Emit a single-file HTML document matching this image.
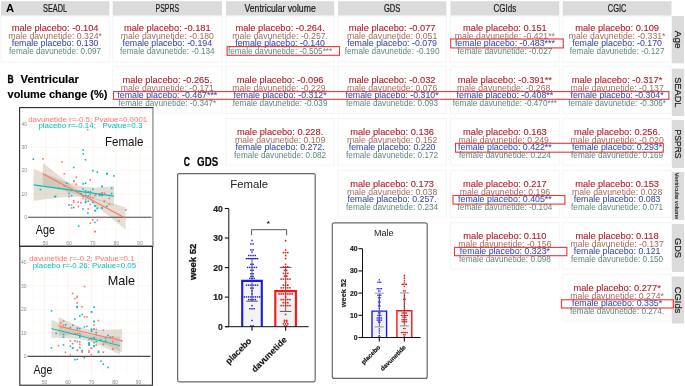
<!DOCTYPE html><html><head><meta charset="utf-8"><title>fig</title><style>
html,body{margin:0;padding:0;background:#fff;}body{width:685px;height:386px;overflow:hidden;}
svg{display:block;font-family:"Liberation Sans",sans-serif;will-change:transform;}
</style></head><body>
<svg width="685" height="386" viewBox="0 0 685 386">
<rect x="0" y="0" width="685" height="386" fill="#fff"/>
<rect x="1" y="1.2" width="108.3" height="14.6" fill="#dbdbdb"/>
<text x="55.1" y="11.9" font-size="10.0" fill="#1a1a1a" stroke="#1a1a1a" stroke-width="0.22" text-anchor="middle" textLength="24.1" lengthAdjust="spacingAndGlyphs">SEADL</text>
<rect x="112.7" y="1.2" width="109.3" height="14.6" fill="#dbdbdb"/>
<text x="167.3" y="11.9" font-size="10.0" fill="#1a1a1a" stroke="#1a1a1a" stroke-width="0.22" text-anchor="middle" textLength="23.6" lengthAdjust="spacingAndGlyphs">PSPRS</text>
<rect x="226" y="1.2" width="108.2" height="14.6" fill="#dbdbdb"/>
<text x="280.1" y="11.9" font-size="10.0" fill="#1a1a1a" stroke="#1a1a1a" stroke-width="0.22" text-anchor="middle" textLength="71.2" lengthAdjust="spacingAndGlyphs">Ventricular volume</text>
<rect x="338" y="1.2" width="108.3" height="14.6" fill="#dbdbdb"/>
<text x="392.1" y="11.9" font-size="10.0" fill="#1a1a1a" stroke="#1a1a1a" stroke-width="0.22" text-anchor="middle" textLength="16.3" lengthAdjust="spacingAndGlyphs">GDS</text>
<rect x="450.5" y="1.2" width="108.8" height="14.6" fill="#dbdbdb"/>
<text x="504.9" y="11.9" font-size="10.0" fill="#1a1a1a" stroke="#1a1a1a" stroke-width="0.22" text-anchor="middle" textLength="22.6" lengthAdjust="spacingAndGlyphs">CGIds</text>
<rect x="562.8" y="1.2" width="108.7" height="14.6" fill="#dbdbdb"/>
<text x="617.1" y="11.9" font-size="10.0" fill="#1a1a1a" stroke="#1a1a1a" stroke-width="0.22" text-anchor="middle" textLength="18.7" lengthAdjust="spacingAndGlyphs">CGIC</text>
<text x="6" y="12.2" font-size="11.2" font-weight="bold" fill="#000">A</text>
<rect x="672" y="16" width="12" height="47.3" fill="#dbdbdb"/>
<text transform="translate(674.6,39.6) rotate(90)" x="0" y="0" font-size="9.3" fill="#1a1a1a" stroke="#1a1a1a" stroke-width="0.2" text-anchor="middle" textLength="17.7" lengthAdjust="spacingAndGlyphs">Age</text>
<rect x="672" y="68.6" width="12" height="47.4" fill="#dbdbdb"/>
<text transform="translate(674.6,92.3) rotate(90)" x="0" y="0" font-size="9.3" fill="#1a1a1a" stroke="#1a1a1a" stroke-width="0.2" text-anchor="middle" textLength="30.3" lengthAdjust="spacingAndGlyphs">SEADL</text>
<rect x="672" y="120" width="12" height="48.0" fill="#dbdbdb"/>
<text transform="translate(674.6,144.0) rotate(90)" x="0" y="0" font-size="9.3" fill="#1a1a1a" stroke="#1a1a1a" stroke-width="0.2" text-anchor="middle" textLength="29.2" lengthAdjust="spacingAndGlyphs">PSPRS</text>
<rect x="672" y="172" width="12" height="48.0" fill="#dbdbdb"/>
<text transform="translate(674.6,196.0) rotate(90)" x="0" y="0" font-size="5.8" fill="#1a1a1a" stroke="#1a1a1a" stroke-width="0.1" text-anchor="middle" textLength="46.4" lengthAdjust="spacingAndGlyphs">Ventricular volume</text>
<rect x="672" y="224" width="12" height="48.0" fill="#dbdbdb"/>
<text transform="translate(674.6,248.0) rotate(90)" x="0" y="0" font-size="9.3" fill="#1a1a1a" stroke="#1a1a1a" stroke-width="0.2" text-anchor="middle" textLength="19.9" lengthAdjust="spacingAndGlyphs">GDS</text>
<rect x="672" y="276.5" width="12" height="47.0" fill="#dbdbdb"/>
<text transform="translate(674.6,300.0) rotate(90)" x="0" y="0" font-size="9.3" fill="#1a1a1a" stroke="#1a1a1a" stroke-width="0.2" text-anchor="middle" textLength="26.6" lengthAdjust="spacingAndGlyphs">CGIds</text>
<rect x="1" y="16" width="108.3" height="46.0" fill="none" stroke="#f4f4f4" stroke-width="1"/>
<text x="55.1" y="31.3" font-size="9.2" fill="#b3202e" stroke="#b3202e" stroke-width="0.12" text-anchor="middle" textLength="86.8" lengthAdjust="spacingAndGlyphs">male placebo: -0.104</text>
<text x="55.1" y="38.7" font-size="8.9" fill="#a36d5d" text-anchor="middle" textLength="93.8" lengthAdjust="spacingAndGlyphs">male davunetide: 0.324*</text>
<text x="55.1" y="46.1" font-size="8.9" fill="#3a4db0" stroke="#3a4db0" stroke-width="0.06" text-anchor="middle" textLength="86.8" lengthAdjust="spacingAndGlyphs">female placebo: 0.130</text>
<text x="55.1" y="53.5" font-size="8.8" fill="#578a78" text-anchor="middle" textLength="92.0" lengthAdjust="spacingAndGlyphs">female davunetide: 0.097</text>
<rect x="112.7" y="16" width="109.3" height="46.0" fill="none" stroke="#f4f4f4" stroke-width="1"/>
<text x="167.3" y="31.3" font-size="9.2" fill="#b3202e" stroke="#b3202e" stroke-width="0.12" text-anchor="middle" textLength="86.8" lengthAdjust="spacingAndGlyphs">male placebo: -0.181</text>
<text x="167.3" y="38.7" font-size="8.9" fill="#a36d5d" text-anchor="middle" textLength="93.3" lengthAdjust="spacingAndGlyphs">male davunetide: -0.180</text>
<text x="167.3" y="46.1" font-size="8.9" fill="#3a4db0" stroke="#3a4db0" stroke-width="0.06" text-anchor="middle" textLength="89.7" lengthAdjust="spacingAndGlyphs">female placebo: -0.194</text>
<text x="167.3" y="53.5" font-size="8.8" fill="#578a78" text-anchor="middle" textLength="94.7" lengthAdjust="spacingAndGlyphs">female davunetide: -0.134</text>
<rect x="226" y="16" width="108.2" height="46.0" fill="none" stroke="#f4f4f4" stroke-width="1"/>
<text x="280.1" y="31.3" font-size="9.2" fill="#b3202e" stroke="#b3202e" stroke-width="0.12" text-anchor="middle" textLength="89.4" lengthAdjust="spacingAndGlyphs">male placebo: -0.264.</text>
<text x="280.1" y="38.7" font-size="8.9" fill="#a36d5d" text-anchor="middle" textLength="95.8" lengthAdjust="spacingAndGlyphs">male davunetide: -0.257.</text>
<text x="280.1" y="46.1" font-size="8.9" fill="#3a4db0" stroke="#3a4db0" stroke-width="0.06" text-anchor="middle" textLength="89.7" lengthAdjust="spacingAndGlyphs">female placebo: -0.140</text>
<text x="280.1" y="53.5" font-size="8.8" fill="#578a78" text-anchor="middle" textLength="104.3" lengthAdjust="spacingAndGlyphs">female davunetide: -0.505***</text>
<rect x="338" y="16" width="108.3" height="46.0" fill="none" stroke="#f4f4f4" stroke-width="1"/>
<text x="392.1" y="31.3" font-size="9.2" fill="#b3202e" stroke="#b3202e" stroke-width="0.12" text-anchor="middle" textLength="86.8" lengthAdjust="spacingAndGlyphs">male placebo: -0.077</text>
<text x="392.1" y="38.7" font-size="8.9" fill="#a36d5d" text-anchor="middle" textLength="90.4" lengthAdjust="spacingAndGlyphs">male davunetide: 0.051</text>
<text x="392.1" y="46.1" font-size="8.9" fill="#3a4db0" stroke="#3a4db0" stroke-width="0.06" text-anchor="middle" textLength="89.7" lengthAdjust="spacingAndGlyphs">female placebo: -0.079</text>
<text x="392.1" y="53.5" font-size="8.8" fill="#578a78" text-anchor="middle" textLength="94.7" lengthAdjust="spacingAndGlyphs">female davunetide: -0.190</text>
<rect x="450.5" y="16" width="108.8" height="46.0" fill="none" stroke="#f4f4f4" stroke-width="1"/>
<text x="504.9" y="31.3" font-size="9.2" fill="#b3202e" stroke="#b3202e" stroke-width="0.12" text-anchor="middle" textLength="83.8" lengthAdjust="spacingAndGlyphs">male placebo: 0.151</text>
<text x="504.9" y="38.7" font-size="8.9" fill="#a36d5d" text-anchor="middle" textLength="100.1" lengthAdjust="spacingAndGlyphs">male davunetide: -0.421**</text>
<text x="504.9" y="46.1" font-size="8.9" fill="#3a4db0" stroke="#3a4db0" stroke-width="0.06" text-anchor="middle" textLength="100.0" lengthAdjust="spacingAndGlyphs">female placebo: -0.483***</text>
<text x="504.9" y="53.5" font-size="8.8" fill="#578a78" text-anchor="middle" textLength="94.7" lengthAdjust="spacingAndGlyphs">female davunetide: -0.027</text>
<rect x="562.8" y="16" width="108.7" height="46.0" fill="none" stroke="#f4f4f4" stroke-width="1"/>
<text x="617.1" y="31.3" font-size="9.2" fill="#b3202e" stroke="#b3202e" stroke-width="0.12" text-anchor="middle" textLength="83.8" lengthAdjust="spacingAndGlyphs">male placebo: 0.109</text>
<text x="617.1" y="38.7" font-size="8.9" fill="#a36d5d" text-anchor="middle" textLength="96.7" lengthAdjust="spacingAndGlyphs">male davunetide: -0.331*</text>
<text x="617.1" y="46.1" font-size="8.9" fill="#3a4db0" stroke="#3a4db0" stroke-width="0.06" text-anchor="middle" textLength="89.7" lengthAdjust="spacingAndGlyphs">female placebo: -0.170</text>
<text x="617.1" y="53.5" font-size="8.8" fill="#578a78" text-anchor="middle" textLength="94.7" lengthAdjust="spacingAndGlyphs">female davunetide: -0.127</text>
<rect x="112.7" y="66.6" width="109.3" height="46.5" fill="none" stroke="#f4f4f4" stroke-width="1"/>
<text x="167.3" y="83.3" font-size="9.2" fill="#b3202e" stroke="#b3202e" stroke-width="0.12" text-anchor="middle" textLength="89.4" lengthAdjust="spacingAndGlyphs">male placebo: -0.265.</text>
<text x="167.3" y="90.7" font-size="8.9" fill="#a36d5d" text-anchor="middle" textLength="93.3" lengthAdjust="spacingAndGlyphs">male davunetide: -0.171</text>
<text x="167.3" y="98.1" font-size="8.9" fill="#3a4db0" stroke="#3a4db0" stroke-width="0.06" text-anchor="middle" textLength="100.0" lengthAdjust="spacingAndGlyphs">female placebo: -0.467***</text>
<text x="167.3" y="105.5" font-size="8.8" fill="#578a78" text-anchor="middle" textLength="97.9" lengthAdjust="spacingAndGlyphs">female davunetide: -0.347*</text>
<rect x="226" y="66.6" width="108.2" height="46.5" fill="none" stroke="#f4f4f4" stroke-width="1"/>
<text x="280.1" y="83.3" font-size="9.2" fill="#b3202e" stroke="#b3202e" stroke-width="0.12" text-anchor="middle" textLength="86.8" lengthAdjust="spacingAndGlyphs">male placebo: -0.096</text>
<text x="280.1" y="90.7" font-size="8.9" fill="#a36d5d" text-anchor="middle" textLength="95.8" lengthAdjust="spacingAndGlyphs">male davunetide: -0.229.</text>
<text x="280.1" y="98.1" font-size="8.9" fill="#3a4db0" stroke="#3a4db0" stroke-width="0.06" text-anchor="middle" textLength="93.2" lengthAdjust="spacingAndGlyphs">female placebo: -0.312*</text>
<text x="280.1" y="105.5" font-size="8.8" fill="#578a78" text-anchor="middle" textLength="94.7" lengthAdjust="spacingAndGlyphs">female davunetide: -0.039</text>
<rect x="338" y="66.6" width="108.3" height="46.5" fill="none" stroke="#f4f4f4" stroke-width="1"/>
<text x="392.1" y="83.3" font-size="9.2" fill="#b3202e" stroke="#b3202e" stroke-width="0.12" text-anchor="middle" textLength="86.8" lengthAdjust="spacingAndGlyphs">male placebo: -0.032</text>
<text x="392.1" y="90.7" font-size="8.9" fill="#a36d5d" text-anchor="middle" textLength="90.4" lengthAdjust="spacingAndGlyphs">male davunetide: 0.076</text>
<text x="392.1" y="98.1" font-size="8.9" fill="#3a4db0" stroke="#3a4db0" stroke-width="0.06" text-anchor="middle" textLength="93.2" lengthAdjust="spacingAndGlyphs">female placebo: -0.310*</text>
<text x="392.1" y="105.5" font-size="8.8" fill="#578a78" text-anchor="middle" textLength="92.0" lengthAdjust="spacingAndGlyphs">female davunetide: 0.093</text>
<rect x="450.5" y="66.6" width="108.8" height="46.5" fill="none" stroke="#f4f4f4" stroke-width="1"/>
<text x="504.9" y="83.3" font-size="9.2" fill="#b3202e" stroke="#b3202e" stroke-width="0.12" text-anchor="middle" textLength="94.1" lengthAdjust="spacingAndGlyphs">male placebo: -0.391**</text>
<text x="504.9" y="90.7" font-size="8.9" fill="#a36d5d" text-anchor="middle" textLength="95.8" lengthAdjust="spacingAndGlyphs">male davunetide: -0.268.</text>
<text x="504.9" y="98.1" font-size="8.9" fill="#3a4db0" stroke="#3a4db0" stroke-width="0.06" text-anchor="middle" textLength="96.6" lengthAdjust="spacingAndGlyphs">female placebo: -0.408**</text>
<text x="504.9" y="105.5" font-size="8.8" fill="#578a78" text-anchor="middle" textLength="104.3" lengthAdjust="spacingAndGlyphs">female davunetide: -0.470***</text>
<rect x="562.8" y="66.6" width="108.7" height="46.5" fill="none" stroke="#f4f4f4" stroke-width="1"/>
<text x="617.1" y="83.3" font-size="9.2" fill="#b3202e" stroke="#b3202e" stroke-width="0.12" text-anchor="middle" textLength="90.5" lengthAdjust="spacingAndGlyphs">male placebo: -0.317*</text>
<text x="617.1" y="90.7" font-size="8.9" fill="#a36d5d" text-anchor="middle" textLength="93.3" lengthAdjust="spacingAndGlyphs">male davunetide: -0.137</text>
<text x="617.1" y="98.1" font-size="8.9" fill="#3a4db0" stroke="#3a4db0" stroke-width="0.06" text-anchor="middle" textLength="93.2" lengthAdjust="spacingAndGlyphs">female placebo: -0.304*</text>
<text x="617.1" y="105.5" font-size="8.8" fill="#578a78" text-anchor="middle" textLength="97.9" lengthAdjust="spacingAndGlyphs">female davunetide: -0.306*</text>
<rect x="226" y="118.6" width="108.2" height="46.5" fill="none" stroke="#f4f4f4" stroke-width="1"/>
<text x="280.1" y="135.3" font-size="9.2" fill="#b3202e" stroke="#b3202e" stroke-width="0.12" text-anchor="middle" textLength="86.3" lengthAdjust="spacingAndGlyphs">male placebo: 0.228.</text>
<text x="280.1" y="142.7" font-size="8.9" fill="#a36d5d" text-anchor="middle" textLength="90.4" lengthAdjust="spacingAndGlyphs">male davunetide: 0.109</text>
<text x="280.1" y="150.1" font-size="8.9" fill="#3a4db0" stroke="#3a4db0" stroke-width="0.06" text-anchor="middle" textLength="89.2" lengthAdjust="spacingAndGlyphs">female placebo: 0.272.</text>
<text x="280.1" y="157.5" font-size="8.8" fill="#578a78" text-anchor="middle" textLength="92.0" lengthAdjust="spacingAndGlyphs">female davunetide: 0.082</text>
<rect x="338" y="118.6" width="108.3" height="46.5" fill="none" stroke="#f4f4f4" stroke-width="1"/>
<text x="392.1" y="135.3" font-size="9.2" fill="#b3202e" stroke="#b3202e" stroke-width="0.12" text-anchor="middle" textLength="83.8" lengthAdjust="spacingAndGlyphs">male placebo: 0.136</text>
<text x="392.1" y="142.7" font-size="8.9" fill="#a36d5d" text-anchor="middle" textLength="90.4" lengthAdjust="spacingAndGlyphs">male davunetide: 0.152</text>
<text x="392.1" y="150.1" font-size="8.9" fill="#3a4db0" stroke="#3a4db0" stroke-width="0.06" text-anchor="middle" textLength="86.8" lengthAdjust="spacingAndGlyphs">female placebo: 0.220</text>
<text x="392.1" y="157.5" font-size="8.8" fill="#578a78" text-anchor="middle" textLength="92.0" lengthAdjust="spacingAndGlyphs">female davunetide: 0.172</text>
<rect x="450.5" y="118.6" width="108.8" height="46.5" fill="none" stroke="#f4f4f4" stroke-width="1"/>
<text x="504.9" y="135.3" font-size="9.2" fill="#b3202e" stroke="#b3202e" stroke-width="0.12" text-anchor="middle" textLength="83.8" lengthAdjust="spacingAndGlyphs">male placebo: 0.163</text>
<text x="504.9" y="142.7" font-size="8.9" fill="#a36d5d" text-anchor="middle" textLength="92.9" lengthAdjust="spacingAndGlyphs">male davunetide: 0.249.</text>
<text x="504.9" y="150.1" font-size="8.9" fill="#3a4db0" stroke="#3a4db0" stroke-width="0.06" text-anchor="middle" textLength="93.7" lengthAdjust="spacingAndGlyphs">female placebo: 0.422**</text>
<text x="504.9" y="157.5" font-size="8.8" fill="#578a78" text-anchor="middle" textLength="92.0" lengthAdjust="spacingAndGlyphs">female davunetide: 0.224</text>
<rect x="562.8" y="118.6" width="108.7" height="46.5" fill="none" stroke="#f4f4f4" stroke-width="1"/>
<text x="617.1" y="135.3" font-size="9.2" fill="#b3202e" stroke="#b3202e" stroke-width="0.12" text-anchor="middle" textLength="86.3" lengthAdjust="spacingAndGlyphs">male placebo: 0.256.</text>
<text x="617.1" y="142.7" font-size="8.9" fill="#a36d5d" text-anchor="middle" textLength="93.3" lengthAdjust="spacingAndGlyphs">male davunetide: -0.020</text>
<text x="617.1" y="150.1" font-size="8.9" fill="#3a4db0" stroke="#3a4db0" stroke-width="0.06" text-anchor="middle" textLength="90.2" lengthAdjust="spacingAndGlyphs">female placebo: 0.293*</text>
<text x="617.1" y="157.5" font-size="8.8" fill="#578a78" text-anchor="middle" textLength="92.0" lengthAdjust="spacingAndGlyphs">female davunetide: 0.169</text>
<rect x="338" y="170.6" width="108.3" height="46.5" fill="none" stroke="#f4f4f4" stroke-width="1"/>
<text x="392.1" y="187.3" font-size="9.2" fill="#b3202e" stroke="#b3202e" stroke-width="0.12" text-anchor="middle" textLength="83.8" lengthAdjust="spacingAndGlyphs">male placebo: 0.173</text>
<text x="392.1" y="194.7" font-size="8.9" fill="#a36d5d" text-anchor="middle" textLength="90.4" lengthAdjust="spacingAndGlyphs">male davunetide: 0.038</text>
<text x="392.1" y="202.1" font-size="8.9" fill="#3a4db0" stroke="#3a4db0" stroke-width="0.06" text-anchor="middle" textLength="89.2" lengthAdjust="spacingAndGlyphs">female placebo: 0.257.</text>
<text x="392.1" y="209.5" font-size="8.8" fill="#578a78" text-anchor="middle" textLength="92.0" lengthAdjust="spacingAndGlyphs">female davunetide: 0.234</text>
<rect x="450.5" y="170.6" width="108.8" height="46.5" fill="none" stroke="#f4f4f4" stroke-width="1"/>
<text x="504.9" y="187.3" font-size="9.2" fill="#b3202e" stroke="#b3202e" stroke-width="0.12" text-anchor="middle" textLength="83.8" lengthAdjust="spacingAndGlyphs">male placebo: 0.217</text>
<text x="504.9" y="194.7" font-size="8.9" fill="#a36d5d" text-anchor="middle" textLength="90.4" lengthAdjust="spacingAndGlyphs">male davunetide: 0.196</text>
<text x="504.9" y="202.1" font-size="8.9" fill="#3a4db0" stroke="#3a4db0" stroke-width="0.06" text-anchor="middle" textLength="93.7" lengthAdjust="spacingAndGlyphs">female placebo: 0.405**</text>
<text x="504.9" y="209.5" font-size="8.8" fill="#578a78" text-anchor="middle" textLength="94.7" lengthAdjust="spacingAndGlyphs">female davunetide: -0.104</text>
<rect x="562.8" y="170.6" width="108.7" height="46.5" fill="none" stroke="#f4f4f4" stroke-width="1"/>
<text x="617.1" y="187.3" font-size="9.2" fill="#b3202e" stroke="#b3202e" stroke-width="0.12" text-anchor="middle" textLength="83.8" lengthAdjust="spacingAndGlyphs">male placebo: 0.153</text>
<text x="617.1" y="194.7" font-size="8.9" fill="#a36d5d" text-anchor="middle" textLength="90.4" lengthAdjust="spacingAndGlyphs">male davunetide: 0.028</text>
<text x="617.1" y="202.1" font-size="8.9" fill="#3a4db0" stroke="#3a4db0" stroke-width="0.06" text-anchor="middle" textLength="86.8" lengthAdjust="spacingAndGlyphs">female placebo: 0.083</text>
<text x="617.1" y="209.5" font-size="8.8" fill="#578a78" text-anchor="middle" textLength="92.0" lengthAdjust="spacingAndGlyphs">female davunetide: 0.071</text>
<rect x="450.5" y="222.6" width="108.8" height="46.5" fill="none" stroke="#f4f4f4" stroke-width="1"/>
<text x="504.9" y="239.3" font-size="9.2" fill="#b3202e" stroke="#b3202e" stroke-width="0.12" text-anchor="middle" textLength="83.1" lengthAdjust="spacingAndGlyphs">male placebo: 0.110</text>
<text x="504.9" y="246.7" font-size="8.9" fill="#a36d5d" text-anchor="middle" textLength="93.3" lengthAdjust="spacingAndGlyphs">male davunetide: -0.156</text>
<text x="504.9" y="254.1" font-size="8.9" fill="#3a4db0" stroke="#3a4db0" stroke-width="0.06" text-anchor="middle" textLength="90.2" lengthAdjust="spacingAndGlyphs">female placebo: 0.323*</text>
<text x="504.9" y="261.5" font-size="8.8" fill="#578a78" text-anchor="middle" textLength="92.0" lengthAdjust="spacingAndGlyphs">female davunetide: 0.098</text>
<rect x="562.8" y="222.6" width="108.7" height="46.5" fill="none" stroke="#f4f4f4" stroke-width="1"/>
<text x="617.1" y="239.3" font-size="9.2" fill="#b3202e" stroke="#b3202e" stroke-width="0.12" text-anchor="middle" textLength="83.1" lengthAdjust="spacingAndGlyphs">male placebo: 0.118</text>
<text x="617.1" y="246.7" font-size="8.9" fill="#a36d5d" text-anchor="middle" textLength="93.3" lengthAdjust="spacingAndGlyphs">male davunetide: -0.137</text>
<text x="617.1" y="254.1" font-size="8.9" fill="#3a4db0" stroke="#3a4db0" stroke-width="0.06" text-anchor="middle" textLength="86.8" lengthAdjust="spacingAndGlyphs">female placebo: 0.121</text>
<text x="617.1" y="261.5" font-size="8.8" fill="#578a78" text-anchor="middle" textLength="92.0" lengthAdjust="spacingAndGlyphs">female davunetide: 0.150</text>
<rect x="562.8" y="274.6" width="108.7" height="46.5" fill="none" stroke="#f4f4f4" stroke-width="1"/>
<text x="617.1" y="291.3" font-size="9.2" fill="#b3202e" stroke="#b3202e" stroke-width="0.12" text-anchor="middle" textLength="87.4" lengthAdjust="spacingAndGlyphs">male placebo: 0.277*</text>
<text x="617.1" y="298.7" font-size="8.9" fill="#a36d5d" text-anchor="middle" textLength="93.8" lengthAdjust="spacingAndGlyphs">male davunetide: 0.274*</text>
<text x="617.1" y="306.1" font-size="8.9" fill="#3a4db0" stroke="#3a4db0" stroke-width="0.06" text-anchor="middle" textLength="90.2" lengthAdjust="spacingAndGlyphs">female placebo: 0.335*</text>
<text x="617.1" y="313.5" font-size="8.8" fill="#578a78" text-anchor="middle" textLength="94.2" lengthAdjust="spacingAndGlyphs">female davunetide: 0.274.</text>
<rect x="227.1" y="46.6" width="112.4" height="8.7" fill="none" stroke="#e8383d" stroke-width="1.1"/>
<rect x="450.7" y="39.0" width="112.6" height="8.9" fill="none" stroke="#e8383d" stroke-width="1.1"/>
<rect x="113.5" y="91.6" width="555.4" height="7.7" fill="none" stroke="#e8383d" stroke-width="1.1"/>
<rect x="455.5" y="143.3" width="207.8" height="8.9" fill="none" stroke="#e8383d" stroke-width="1.1"/>
<rect x="453.0" y="195.5" width="111.9" height="8.6" fill="none" stroke="#e8383d" stroke-width="1.1"/>
<rect x="454.5" y="247.4" width="112.4" height="8.3" fill="none" stroke="#e8383d" stroke-width="1.1"/>
<rect x="561.4" y="299.8" width="112.0" height="8.2" fill="none" stroke="#e8383d" stroke-width="1.1"/>
<text x="7.4" y="82.6" font-size="11.8" font-weight="bold" fill="#000" stroke="#000" stroke-width="0.35" textLength="6.1" lengthAdjust="spacingAndGlyphs">B</text>
<text x="20.6" y="82.6" font-size="11.8" font-weight="bold" fill="#000" stroke="#000" stroke-width="0.15" textLength="58.3" lengthAdjust="spacingAndGlyphs">Ventricular</text>
<text x="7.6" y="98.2" font-size="11.8" font-weight="bold" fill="#000" stroke="#000" stroke-width="0.15" textLength="99.8" lengthAdjust="spacingAndGlyphs">volume change (%)</text>
<text x="183.8" y="165.5" font-size="12.3" font-weight="bold" fill="#000" stroke="#000" stroke-width="0.3" textLength="6.2" lengthAdjust="spacingAndGlyphs">C</text>
<text x="197.1" y="165.5" font-size="12.3" font-weight="bold" fill="#000" stroke="#000" stroke-width="0.15" textLength="21.2" lengthAdjust="spacingAndGlyphs">GDS</text>
<rect x="19.6" y="107.6" width="133.4" height="138.6" fill="#fff" stroke="#2b2b2b" stroke-width="1.1"/>
<line x1="153.0" y1="108.19999999999999" x2="153.0" y2="245.7" stroke="#fff" stroke-width="1.3"/>
<line x1="152.8" y1="108.19999999999999" x2="152.8" y2="245.7" stroke="#a8a8a8" stroke-width="1.5"/>
<line x1="33.7" y1="111" x2="33.7" y2="239" stroke="#fefaf7" stroke-width="0.8"/>
<line x1="57.3" y1="111" x2="57.3" y2="239" stroke="#fefaf7" stroke-width="0.8"/>
<line x1="80.9" y1="111" x2="80.9" y2="239" stroke="#fefaf7" stroke-width="0.8"/>
<line x1="104.5" y1="111" x2="104.5" y2="239" stroke="#fefaf7" stroke-width="0.8"/>
<line x1="128.1" y1="111" x2="128.1" y2="239" stroke="#fefaf7" stroke-width="0.8"/>
<line x1="28" y1="228.8" x2="151.5" y2="228.8" stroke="#fefaf7" stroke-width="0.8"/>
<line x1="28" y1="205.5" x2="151.5" y2="205.5" stroke="#fefaf7" stroke-width="0.8"/>
<line x1="28" y1="182.2" x2="151.5" y2="182.2" stroke="#fefaf7" stroke-width="0.8"/>
<line x1="28" y1="158.9" x2="151.5" y2="158.9" stroke="#fefaf7" stroke-width="0.8"/>
<line x1="28" y1="135.6" x2="151.5" y2="135.6" stroke="#fefaf7" stroke-width="0.8"/>
<line x1="45.5" y1="111" x2="45.5" y2="239" stroke="#fdf4ed" stroke-width="0.9"/>
<line x1="69.1" y1="111" x2="69.1" y2="239" stroke="#fdf4ed" stroke-width="0.9"/>
<line x1="92.7" y1="111" x2="92.7" y2="239" stroke="#fdf4ed" stroke-width="0.9"/>
<line x1="116.3" y1="111" x2="116.3" y2="239" stroke="#fdf4ed" stroke-width="0.9"/>
<line x1="139.9" y1="111" x2="139.9" y2="239" stroke="#fdf4ed" stroke-width="0.9"/>
<line x1="28" y1="217.2" x2="151.5" y2="217.2" stroke="#fdf4ed" stroke-width="0.9"/>
<line x1="28" y1="193.9" x2="151.5" y2="193.9" stroke="#fdf4ed" stroke-width="0.9"/>
<line x1="28" y1="170.6" x2="151.5" y2="170.6" stroke="#fdf4ed" stroke-width="0.9"/>
<line x1="28" y1="147.3" x2="151.5" y2="147.3" stroke="#fdf4ed" stroke-width="0.9"/>
<line x1="28" y1="124.0" x2="151.5" y2="124.0" stroke="#fdf4ed" stroke-width="0.9"/>
<polygon points="33.7,168.9 37.0,170.3 40.4,171.7 43.7,173.1 47.1,174.4 50.4,175.8 53.8,177.1 57.1,178.4 60.4,179.7 63.8,180.9 67.1,182.1 70.5,183.3 73.8,184.3 77.1,185.2 80.5,186.0 83.8,186.6 87.2,187.1 90.5,187.3 93.9,187.4 97.2,187.4 100.5,187.3 103.9,187.1 107.2,186.8 110.6,186.5 113.9,186.1 113.9,206.1 110.6,204.8 107.2,203.6 103.9,202.3 100.5,201.2 97.2,200.1 93.9,199.2 90.5,198.3 87.2,197.6 83.8,197.2 80.5,196.8 77.1,196.7 73.8,196.7 70.5,196.8 67.1,197.0 63.8,197.3 60.4,197.6 57.1,197.9 53.8,198.3 50.4,198.7 47.1,199.1 43.7,199.5 40.4,200.0 37.0,200.4 33.7,200.9" fill="#b5a38a" fill-opacity="0.36"/>
<polygon points="42.8,162.8 46.2,165.5 49.7,168.3 53.1,171.0 56.6,173.8 60.0,176.5 63.5,179.2 67.0,181.9 70.4,184.6 73.8,187.2 77.3,189.8 80.8,192.1 84.2,194.2 87.6,195.8 91.1,197.1 94.5,198.3 98.0,199.3 101.4,200.4 104.9,201.4 108.3,202.4 111.8,203.3 115.2,204.3 118.7,205.3 122.1,206.2 125.6,207.2 125.6,229.4 122.1,226.7 118.7,223.9 115.2,221.2 111.8,218.4 108.3,215.7 104.9,213.0 101.4,210.3 98.0,207.6 94.5,205.0 91.1,202.4 87.6,200.0 84.2,197.9 80.8,196.2 77.3,194.9 73.8,193.7 70.4,192.7 67.0,191.6 63.5,190.6 60.0,189.6 56.6,188.7 53.1,187.7 49.7,186.7 46.2,185.8 42.8,184.8" fill="#b5a38a" fill-opacity="0.36"/>
<line x1="28" y1="217.2" x2="151.5" y2="217.2" stroke="#4a4a4a" stroke-width="1.1"/>
<rect x="32.5" y="158.4" width="1.6" height="1.6" fill="#00bfc4"/>
<rect x="42.2" y="158.0" width="1.6" height="1.6" fill="#f8766d"/>
<rect x="61.2" y="161.3" width="1.6" height="1.6" fill="#f8766d"/>
<rect x="82.4" y="149.2" width="1.6" height="1.6" fill="#00bfc4"/>
<rect x="82.4" y="153.0" width="1.6" height="1.6" fill="#00bfc4"/>
<rect x="84.8" y="159.0" width="1.6" height="1.6" fill="#00bfc4"/>
<rect x="72.9" y="166.7" width="1.6" height="1.6" fill="#00bfc4"/>
<rect x="92.1" y="169.9" width="1.6" height="1.6" fill="#00bfc4"/>
<rect x="96.5" y="171.4" width="1.6" height="1.6" fill="#00bfc4"/>
<rect x="63.5" y="173.0" width="1.6" height="1.6" fill="#f8766d"/>
<rect x="75.5" y="176.4" width="1.6" height="1.6" fill="#f8766d"/>
<rect x="89.5" y="179.0" width="1.6" height="1.6" fill="#f8766d"/>
<rect x="73.1" y="180.3" width="1.6" height="1.6" fill="#f8766d"/>
<rect x="65.9" y="182.4" width="1.6" height="1.6" fill="#00bfc4"/>
<rect x="84.8" y="182.4" width="1.6" height="1.6" fill="#00bfc4"/>
<rect x="82.4" y="183.1" width="1.6" height="1.6" fill="#00bfc4"/>
<rect x="75.5" y="183.6" width="1.6" height="1.6" fill="#f8766d"/>
<rect x="63.5" y="185.4" width="1.6" height="1.6" fill="#f8766d"/>
<rect x="39.7" y="188.8" width="1.6" height="1.6" fill="#00bfc4"/>
<rect x="58.5" y="187.5" width="1.6" height="1.6" fill="#f8766d"/>
<rect x="86.9" y="128.8" width="1.6" height="1.6" fill="#f8766d"/>
<rect x="106.4" y="172.8" width="1.6" height="1.6" fill="#00bfc4"/>
<rect x="113.1" y="175.1" width="1.6" height="1.6" fill="#00bfc4"/>
<rect x="106.1" y="173.0" width="1.6" height="1.6" fill="#00bfc4"/>
<rect x="101.3" y="185.7" width="1.6" height="1.6" fill="#00bfc4"/>
<rect x="110.8" y="187.5" width="1.6" height="1.6" fill="#00bfc4"/>
<rect x="101.3" y="192.2" width="1.6" height="1.6" fill="#f8766d"/>
<rect x="103.7" y="192.4" width="1.6" height="1.6" fill="#f8766d"/>
<rect x="94.7" y="194.5" width="1.6" height="1.6" fill="#f8766d"/>
<rect x="98.9" y="194.3" width="1.6" height="1.6" fill="#00bfc4"/>
<rect x="101.3" y="194.8" width="1.6" height="1.6" fill="#00bfc4"/>
<rect x="110.8" y="192.7" width="1.6" height="1.6" fill="#00bfc4"/>
<rect x="108.5" y="197.6" width="1.6" height="1.6" fill="#f8766d"/>
<rect x="103.7" y="200.5" width="1.6" height="1.6" fill="#f8766d"/>
<rect x="108.5" y="203.4" width="1.6" height="1.6" fill="#f8766d"/>
<rect x="106.1" y="205.4" width="1.6" height="1.6" fill="#00bfc4"/>
<rect x="101.3" y="207.2" width="1.6" height="1.6" fill="#00bfc4"/>
<rect x="96.5" y="207.7" width="1.6" height="1.6" fill="#00bfc4"/>
<rect x="94.7" y="205.1" width="1.6" height="1.6" fill="#00bfc4"/>
<rect x="94.7" y="209.8" width="1.6" height="1.6" fill="#00bfc4"/>
<rect x="125.1" y="209.2" width="1.6" height="1.6" fill="#f8766d"/>
<rect x="96.5" y="216.5" width="1.6" height="1.6" fill="#f8766d"/>
<rect x="103.7" y="216.5" width="1.6" height="1.6" fill="#f8766d"/>
<rect x="96.5" y="219.6" width="1.6" height="1.6" fill="#f8766d"/>
<rect x="94.1" y="221.6" width="1.6" height="1.6" fill="#00bfc4"/>
<rect x="118.1" y="220.1" width="1.6" height="1.6" fill="#f8766d"/>
<rect x="94.4" y="230.7" width="1.6" height="1.6" fill="#f8766d"/>
<rect x="72.9" y="180.2" width="1.6" height="1.6" fill="#f8766d"/>
<rect x="54.7" y="195.6" width="1.6" height="1.6" fill="#00bfc4"/>
<rect x="70.8" y="189.6" width="1.6" height="1.6" fill="#00bfc4"/>
<rect x="68.2" y="192.7" width="1.6" height="1.6" fill="#00bfc4"/>
<rect x="68.2" y="195.8" width="1.6" height="1.6" fill="#f8766d"/>
<rect x="70.8" y="194.8" width="1.6" height="1.6" fill="#00bfc4"/>
<rect x="82.2" y="188.3" width="1.6" height="1.6" fill="#00bfc4"/>
<rect x="84.8" y="190.1" width="1.6" height="1.6" fill="#00bfc4"/>
<rect x="87.4" y="191.1" width="1.6" height="1.6" fill="#00bfc4"/>
<rect x="89.5" y="190.9" width="1.6" height="1.6" fill="#00bfc4"/>
<rect x="92.1" y="188.5" width="1.6" height="1.6" fill="#00bfc4"/>
<rect x="101.4" y="185.6" width="1.6" height="1.6" fill="#00bfc4"/>
<rect x="84.8" y="192.2" width="1.6" height="1.6" fill="#f8766d"/>
<rect x="89.5" y="193.7" width="1.6" height="1.6" fill="#f8766d"/>
<rect x="84.8" y="194.8" width="1.6" height="1.6" fill="#00bfc4"/>
<rect x="87.4" y="195.0" width="1.6" height="1.6" fill="#00bfc4"/>
<rect x="80.1" y="193.0" width="1.6" height="1.6" fill="#00bfc4"/>
<rect x="82.2" y="195.3" width="1.6" height="1.6" fill="#f8766d"/>
<rect x="82.2" y="197.7" width="1.6" height="1.6" fill="#f8766d"/>
<rect x="84.8" y="198.7" width="1.6" height="1.6" fill="#f8766d"/>
<rect x="89.5" y="196.3" width="1.6" height="1.6" fill="#f8766d"/>
<rect x="92.1" y="196.8" width="1.6" height="1.6" fill="#f8766d"/>
<rect x="94.1" y="194.6" width="1.6" height="1.6" fill="#f8766d"/>
<rect x="98.8" y="193.2" width="1.6" height="1.6" fill="#f8766d"/>
<rect x="101.4" y="192.2" width="1.6" height="1.6" fill="#f8766d"/>
<rect x="98.8" y="194.6" width="1.6" height="1.6" fill="#00bfc4"/>
<rect x="103.5" y="200.5" width="1.6" height="1.6" fill="#f8766d"/>
<rect x="84.8" y="200.5" width="1.6" height="1.6" fill="#00bfc4"/>
<rect x="84.8" y="201.5" width="1.6" height="1.6" fill="#00bfc4"/>
<rect x="87.4" y="200.5" width="1.6" height="1.6" fill="#00bfc4"/>
<rect x="72.9" y="199.9" width="1.6" height="1.6" fill="#f8766d"/>
<rect x="72.9" y="201.2" width="1.6" height="1.6" fill="#f8766d"/>
<rect x="77.5" y="201.5" width="1.6" height="1.6" fill="#f8766d"/>
<rect x="80.1" y="202.0" width="1.6" height="1.6" fill="#f8766d"/>
<rect x="92.1" y="201.5" width="1.6" height="1.6" fill="#00bfc4"/>
<rect x="89.5" y="203.6" width="1.6" height="1.6" fill="#f8766d"/>
<rect x="68.2" y="204.1" width="1.6" height="1.6" fill="#00bfc4"/>
<rect x="70.8" y="204.1" width="1.6" height="1.6" fill="#f8766d"/>
<rect x="77.5" y="205.7" width="1.6" height="1.6" fill="#f8766d"/>
<rect x="72.9" y="206.7" width="1.6" height="1.6" fill="#00bfc4"/>
<rect x="70.8" y="207.2" width="1.6" height="1.6" fill="#f8766d"/>
<rect x="94.1" y="205.1" width="1.6" height="1.6" fill="#00bfc4"/>
<rect x="96.5" y="207.4" width="1.6" height="1.6" fill="#00bfc4"/>
<rect x="101.4" y="207.2" width="1.6" height="1.6" fill="#00bfc4"/>
<rect x="82.2" y="208.2" width="1.6" height="1.6" fill="#00bfc4"/>
<rect x="87.4" y="208.2" width="1.6" height="1.6" fill="#f8766d"/>
<rect x="94.1" y="209.8" width="1.6" height="1.6" fill="#00bfc4"/>
<rect x="87.1" y="212.2" width="1.6" height="1.6" fill="#00bfc4"/>
<rect x="91.9" y="219.0" width="1.6" height="1.6" fill="#f8766d"/>
<rect x="89.6" y="222.4" width="1.6" height="1.6" fill="#f8766d"/>
<rect x="77.8" y="225.4" width="1.6" height="1.6" fill="#00bfc4"/>
<rect x="94.1" y="230.8" width="1.6" height="1.6" fill="#f8766d"/>
<rect x="54.0" y="195.8" width="1.6" height="1.6" fill="#00bfc4"/>
<line x1="33.7" y1="184.9" x2="113.9" y2="196.1" stroke="#00bfc4" stroke-width="1.2"/>
<line x1="42.8" y1="173.8" x2="125.6" y2="218.3" stroke="#f8766d" stroke-width="1.2"/>
<text x="27.0" y="218.9" font-size="5" fill="#8a8a8a" text-anchor="end">0</text>
<text x="27.0" y="195.6" font-size="5" fill="#8a8a8a" text-anchor="end">10</text>
<text x="27.0" y="172.3" font-size="5" fill="#8a8a8a" text-anchor="end">20</text>
<text x="27.0" y="149.0" font-size="5" fill="#8a8a8a" text-anchor="end">30</text>
<text x="27.0" y="125.7" font-size="5" fill="#8a8a8a" text-anchor="end">40</text>
<text x="45.5" y="244.6" font-size="5" fill="#8a8a8a" text-anchor="middle">50</text>
<text x="69.1" y="244.6" font-size="5" fill="#8a8a8a" text-anchor="middle">60</text>
<text x="92.7" y="244.6" font-size="5" fill="#8a8a8a" text-anchor="middle">70</text>
<text x="116.3" y="244.6" font-size="5" fill="#8a8a8a" text-anchor="middle">80</text>
<text x="139.9" y="244.6" font-size="5" fill="#8a8a8a" text-anchor="middle">90</text>
<text x="28.2" y="121.9" font-size="7.9" fill="#f8766d" style="white-space:pre" textLength="119" lengthAdjust="spacingAndGlyphs">davunetide r=-0.5; Pvalue=0.0001</text>
<text x="38.4" y="128.4" font-size="7.9" fill="#00bfc4" style="white-space:pre" textLength="103.9" lengthAdjust="spacingAndGlyphs">placebo r=-0.14;   Pvalue=0.3</text>
<text x="105" y="145.9" font-size="13.0" fill="#111" textLength="38.4" lengthAdjust="spacingAndGlyphs">Female</text>
<text x="35.8" y="233.5" font-size="12.2" fill="#111" textLength="19.1" lengthAdjust="spacingAndGlyphs">Age</text>
<rect x="19.8" y="246.4" width="132.6" height="138.8" fill="#fff" stroke="#2b2b2b" stroke-width="1.1"/>
<line x1="32.8" y1="250" x2="32.8" y2="378" stroke="#fefaf7" stroke-width="0.8"/>
<line x1="56.2" y1="250" x2="56.2" y2="378" stroke="#fefaf7" stroke-width="0.8"/>
<line x1="79.8" y1="250" x2="79.8" y2="378" stroke="#fefaf7" stroke-width="0.8"/>
<line x1="103.2" y1="250" x2="103.2" y2="378" stroke="#fefaf7" stroke-width="0.8"/>
<line x1="126.8" y1="250" x2="126.8" y2="378" stroke="#fefaf7" stroke-width="0.8"/>
<line x1="150.2" y1="250" x2="150.2" y2="378" stroke="#fefaf7" stroke-width="0.8"/>
<line x1="27.5" y1="368.1" x2="150.5" y2="368.1" stroke="#fefaf7" stroke-width="0.8"/>
<line x1="27.5" y1="344.7" x2="150.5" y2="344.7" stroke="#fefaf7" stroke-width="0.8"/>
<line x1="27.5" y1="321.2" x2="150.5" y2="321.2" stroke="#fefaf7" stroke-width="0.8"/>
<line x1="27.5" y1="297.8" x2="150.5" y2="297.8" stroke="#fefaf7" stroke-width="0.8"/>
<line x1="27.5" y1="274.3" x2="150.5" y2="274.3" stroke="#fefaf7" stroke-width="0.8"/>
<line x1="44.5" y1="250" x2="44.5" y2="378" stroke="#fdf4ed" stroke-width="0.9"/>
<line x1="68.0" y1="250" x2="68.0" y2="378" stroke="#fdf4ed" stroke-width="0.9"/>
<line x1="91.5" y1="250" x2="91.5" y2="378" stroke="#fdf4ed" stroke-width="0.9"/>
<line x1="115.0" y1="250" x2="115.0" y2="378" stroke="#fdf4ed" stroke-width="0.9"/>
<line x1="138.5" y1="250" x2="138.5" y2="378" stroke="#fdf4ed" stroke-width="0.9"/>
<line x1="27.5" y1="356.4" x2="150.5" y2="356.4" stroke="#fdf4ed" stroke-width="0.9"/>
<line x1="27.5" y1="332.9" x2="150.5" y2="332.9" stroke="#fdf4ed" stroke-width="0.9"/>
<line x1="27.5" y1="309.5" x2="150.5" y2="309.5" stroke="#fdf4ed" stroke-width="0.9"/>
<line x1="27.5" y1="286.0" x2="150.5" y2="286.0" stroke="#fdf4ed" stroke-width="0.9"/>
<line x1="27.5" y1="262.6" x2="150.5" y2="262.6" stroke="#fdf4ed" stroke-width="0.9"/>
<polygon points="51.4,319.5 54.3,320.9 57.1,322.3 60.0,323.6 62.8,324.9 65.7,326.2 68.5,327.5 71.4,328.8 74.2,330.0 77.1,331.1 79.9,332.2 82.8,333.1 85.7,333.9 88.5,334.6 91.4,335.1 94.2,335.5 97.1,335.8 99.9,336.0 102.8,336.2 105.6,336.4 108.5,336.5 111.3,336.6 114.2,336.7 117.0,336.7 119.9,336.8 119.9,354.6 117.0,353.2 114.2,351.9 111.3,350.5 108.5,349.2 105.6,347.9 102.8,346.6 99.9,345.4 97.1,344.2 94.2,343.1 91.4,342.0 88.5,341.1 85.7,340.4 82.8,339.7 79.9,339.3 77.1,338.9 74.2,338.6 71.4,338.4 68.5,338.2 65.7,338.1 62.8,338.0 60.0,337.9 57.1,337.8 54.3,337.7 51.4,337.7" fill="#b5a38a" fill-opacity="0.36"/>
<polygon points="58.6,316.9 61.2,318.2 63.9,319.6 66.5,320.9 69.2,322.2 71.8,323.4 74.5,324.6 77.1,325.8 79.8,326.8 82.4,327.7 85.1,328.5 87.7,329.1 90.3,329.5 93.0,329.7 95.6,329.9 98.3,329.9 100.9,329.9 103.6,329.9 106.2,329.8 108.9,329.7 111.5,329.6 114.2,329.5 116.8,329.3 119.5,329.2 122.1,329.0 122.1,352.6 119.5,351.2 116.8,349.9 114.2,348.5 111.5,347.1 108.9,345.8 106.2,344.5 103.6,343.2 100.9,341.9 98.3,340.7 95.6,339.6 93.0,338.5 90.3,337.5 87.7,336.7 85.1,336.1 82.4,335.6 79.8,335.3 77.1,335.1 74.5,335.1 71.8,335.0 69.2,335.1 66.5,335.2 63.9,335.3 61.2,335.4 58.6,335.5" fill="#b5a38a" fill-opacity="0.36"/>
<line x1="27.5" y1="356.4" x2="150.5" y2="356.4" stroke="#4a4a4a" stroke-width="1.1"/>
<rect x="83.6" y="285.7" width="1.6" height="1.6" fill="#f8766d"/>
<rect x="71.8" y="292.7" width="1.6" height="1.6" fill="#f8766d"/>
<rect x="76.4" y="295.6" width="1.6" height="1.6" fill="#f8766d"/>
<rect x="76.4" y="296.6" width="1.6" height="1.6" fill="#f8766d"/>
<rect x="74.1" y="297.9" width="1.6" height="1.6" fill="#f8766d"/>
<rect x="76.4" y="302.2" width="1.6" height="1.6" fill="#f8766d"/>
<rect x="76.4" y="305.7" width="1.6" height="1.6" fill="#00bfc4"/>
<rect x="76.4" y="306.7" width="1.6" height="1.6" fill="#00bfc4"/>
<rect x="81.2" y="306.0" width="1.6" height="1.6" fill="#f8766d"/>
<rect x="93.3" y="306.4" width="1.6" height="1.6" fill="#00bfc4"/>
<rect x="50.8" y="310.1" width="1.6" height="1.6" fill="#00bfc4"/>
<rect x="90.7" y="311.2" width="1.6" height="1.6" fill="#00bfc4"/>
<rect x="81.4" y="313.7" width="1.6" height="1.6" fill="#00bfc4"/>
<rect x="79.0" y="315.2" width="1.6" height="1.6" fill="#00bfc4"/>
<rect x="83.6" y="316.0" width="1.6" height="1.6" fill="#f8766d"/>
<rect x="86.0" y="316.0" width="1.6" height="1.6" fill="#f8766d"/>
<rect x="74.1" y="318.3" width="1.6" height="1.6" fill="#00bfc4"/>
<rect x="62.7" y="320.3" width="1.6" height="1.6" fill="#f8766d"/>
<rect x="60.0" y="321.9" width="1.6" height="1.6" fill="#f8766d"/>
<rect x="93.2" y="320.7" width="1.6" height="1.6" fill="#00bfc4"/>
<rect x="93.2" y="324.2" width="1.6" height="1.6" fill="#f8766d"/>
<rect x="62.7" y="324.2" width="1.6" height="1.6" fill="#f8766d"/>
<rect x="64.9" y="323.9" width="1.6" height="1.6" fill="#00bfc4"/>
<rect x="72.0" y="324.5" width="1.6" height="1.6" fill="#00bfc4"/>
<rect x="86.2" y="325.5" width="1.6" height="1.6" fill="#f8766d"/>
<rect x="83.6" y="326.2" width="1.6" height="1.6" fill="#00bfc4"/>
<rect x="69.6" y="326.8" width="1.6" height="1.6" fill="#00bfc4"/>
<rect x="76.6" y="326.8" width="1.6" height="1.6" fill="#f8766d"/>
<rect x="76.6" y="328.0" width="1.6" height="1.6" fill="#00bfc4"/>
<rect x="79.0" y="327.8" width="1.6" height="1.6" fill="#00bfc4"/>
<rect x="93.2" y="328.3" width="1.6" height="1.6" fill="#f8766d"/>
<rect x="90.7" y="328.6" width="1.6" height="1.6" fill="#00bfc4"/>
<rect x="90.7" y="330.4" width="1.6" height="1.6" fill="#00bfc4"/>
<rect x="55.4" y="332.5" width="1.6" height="1.6" fill="#00bfc4"/>
<rect x="74.3" y="333.0" width="1.6" height="1.6" fill="#f8766d"/>
<rect x="76.6" y="333.2" width="1.6" height="1.6" fill="#f8766d"/>
<rect x="79.0" y="332.8" width="1.6" height="1.6" fill="#f8766d"/>
<rect x="62.7" y="333.8" width="1.6" height="1.6" fill="#00bfc4"/>
<rect x="62.7" y="336.3" width="1.6" height="1.6" fill="#00bfc4"/>
<rect x="79.0" y="334.9" width="1.6" height="1.6" fill="#00bfc4"/>
<rect x="79.0" y="336.3" width="1.6" height="1.6" fill="#00bfc4"/>
<rect x="90.7" y="337.7" width="1.6" height="1.6" fill="#00bfc4"/>
<rect x="88.3" y="338.4" width="1.6" height="1.6" fill="#f8766d"/>
<rect x="93.2" y="338.7" width="1.6" height="1.6" fill="#f8766d"/>
<rect x="69.6" y="340.0" width="1.6" height="1.6" fill="#f8766d"/>
<rect x="74.3" y="340.0" width="1.6" height="1.6" fill="#f8766d"/>
<rect x="76.6" y="340.8" width="1.6" height="1.6" fill="#00bfc4"/>
<rect x="79.0" y="341.1" width="1.6" height="1.6" fill="#f8766d"/>
<rect x="79.0" y="343.6" width="1.6" height="1.6" fill="#f8766d"/>
<rect x="88.3" y="342.3" width="1.6" height="1.6" fill="#00bfc4"/>
<rect x="88.3" y="344.2" width="1.6" height="1.6" fill="#00bfc4"/>
<rect x="93.2" y="341.8" width="1.6" height="1.6" fill="#00bfc4"/>
<rect x="93.2" y="345.2" width="1.6" height="1.6" fill="#00bfc4"/>
<rect x="57.7" y="344.9" width="1.6" height="1.6" fill="#f8766d"/>
<rect x="62.7" y="344.2" width="1.6" height="1.6" fill="#00bfc4"/>
<rect x="69.6" y="345.4" width="1.6" height="1.6" fill="#00bfc4"/>
<rect x="72.0" y="347.3" width="1.6" height="1.6" fill="#00bfc4"/>
<rect x="79.0" y="346.7" width="1.6" height="1.6" fill="#00bfc4"/>
<rect x="50.6" y="347.0" width="1.6" height="1.6" fill="#00bfc4"/>
<rect x="90.7" y="347.3" width="1.6" height="1.6" fill="#f8766d"/>
<rect x="76.6" y="349.6" width="1.6" height="1.6" fill="#f8766d"/>
<rect x="81.3" y="350.1" width="1.6" height="1.6" fill="#00bfc4"/>
<rect x="90.8" y="311.1" width="1.6" height="1.6" fill="#00bfc4"/>
<rect x="97.6" y="319.8" width="1.6" height="1.6" fill="#f8766d"/>
<rect x="93.2" y="320.8" width="1.6" height="1.6" fill="#00bfc4"/>
<rect x="93.2" y="328.4" width="1.6" height="1.6" fill="#f8766d"/>
<rect x="95.5" y="328.7" width="1.6" height="1.6" fill="#f8766d"/>
<rect x="90.8" y="328.7" width="1.6" height="1.6" fill="#00bfc4"/>
<rect x="102.6" y="329.4" width="1.6" height="1.6" fill="#f8766d"/>
<rect x="95.5" y="331.8" width="1.6" height="1.6" fill="#00bfc4"/>
<rect x="95.5" y="334.1" width="1.6" height="1.6" fill="#f8766d"/>
<rect x="107.1" y="334.6" width="1.6" height="1.6" fill="#00bfc4"/>
<rect x="109.5" y="336.4" width="1.6" height="1.6" fill="#00bfc4"/>
<rect x="111.9" y="336.0" width="1.6" height="1.6" fill="#f8766d"/>
<rect x="104.8" y="337.2" width="1.6" height="1.6" fill="#00bfc4"/>
<rect x="93.2" y="337.0" width="1.6" height="1.6" fill="#00bfc4"/>
<rect x="90.8" y="338.8" width="1.6" height="1.6" fill="#f8766d"/>
<rect x="99.9" y="339.3" width="1.6" height="1.6" fill="#00bfc4"/>
<rect x="104.8" y="340.1" width="1.6" height="1.6" fill="#00bfc4"/>
<rect x="111.9" y="340.8" width="1.6" height="1.6" fill="#f8766d"/>
<rect x="95.5" y="340.8" width="1.6" height="1.6" fill="#00bfc4"/>
<rect x="120.9" y="340.1" width="1.6" height="1.6" fill="#f8766d"/>
<rect x="95.5" y="344.3" width="1.6" height="1.6" fill="#f8766d"/>
<rect x="102.6" y="343.4" width="1.6" height="1.6" fill="#f8766d"/>
<rect x="88.2" y="342.2" width="1.6" height="1.6" fill="#00bfc4"/>
<rect x="88.2" y="344.0" width="1.6" height="1.6" fill="#00bfc4"/>
<rect x="93.2" y="345.3" width="1.6" height="1.6" fill="#00bfc4"/>
<rect x="90.8" y="347.6" width="1.6" height="1.6" fill="#f8766d"/>
<rect x="111.9" y="348.1" width="1.6" height="1.6" fill="#f8766d"/>
<rect x="71.8" y="343.0" width="1.6" height="1.6" fill="#f8766d"/>
<rect x="71.8" y="347.3" width="1.6" height="1.6" fill="#00bfc4"/>
<rect x="64.7" y="351.5" width="1.6" height="1.6" fill="#f8766d"/>
<rect x="76.6" y="349.3" width="1.6" height="1.6" fill="#f8766d"/>
<rect x="81.4" y="349.9" width="1.6" height="1.6" fill="#00bfc4"/>
<rect x="81.4" y="351.4" width="1.6" height="1.6" fill="#f8766d"/>
<rect x="88.2" y="350.2" width="1.6" height="1.6" fill="#f8766d"/>
<rect x="88.2" y="351.4" width="1.6" height="1.6" fill="#f8766d"/>
<rect x="90.6" y="353.7" width="1.6" height="1.6" fill="#f8766d"/>
<rect x="97.7" y="350.5" width="1.6" height="1.6" fill="#00bfc4"/>
<rect x="97.7" y="351.7" width="1.6" height="1.6" fill="#00bfc4"/>
<rect x="102.5" y="351.4" width="1.6" height="1.6" fill="#f8766d"/>
<rect x="102.5" y="343.7" width="1.6" height="1.6" fill="#f8766d"/>
<rect x="69.5" y="354.5" width="1.6" height="1.6" fill="#f8766d"/>
<rect x="74.2" y="358.9" width="1.6" height="1.6" fill="#00bfc4"/>
<rect x="76.6" y="358.5" width="1.6" height="1.6" fill="#00bfc4"/>
<rect x="83.4" y="356.8" width="1.6" height="1.6" fill="#00bfc4"/>
<rect x="100.1" y="360.4" width="1.6" height="1.6" fill="#00bfc4"/>
<rect x="102.5" y="363.4" width="1.6" height="1.6" fill="#00bfc4"/>
<rect x="107.3" y="366.6" width="1.6" height="1.6" fill="#00bfc4"/>
<rect x="112.0" y="348.1" width="1.6" height="1.6" fill="#f8766d"/>
<line x1="51.4" y1="328.6" x2="119.9" y2="345.7" stroke="#00bfc4" stroke-width="1.0"/>
<line x1="58.6" y1="326.2" x2="122.1" y2="340.8" stroke="#f8766d" stroke-width="1.0"/>
<text x="26.6" y="358.1" font-size="5" fill="#8a8a8a" text-anchor="end">0</text>
<text x="26.6" y="334.6" font-size="5" fill="#8a8a8a" text-anchor="end">10</text>
<text x="26.6" y="311.2" font-size="5" fill="#8a8a8a" text-anchor="end">20</text>
<text x="26.6" y="287.7" font-size="5" fill="#8a8a8a" text-anchor="end">30</text>
<text x="26.6" y="264.3" font-size="5" fill="#8a8a8a" text-anchor="end">40</text>
<text x="44.5" y="383.8" font-size="5" fill="#8a8a8a" text-anchor="middle">50</text>
<text x="68.0" y="383.8" font-size="5" fill="#8a8a8a" text-anchor="middle">60</text>
<text x="91.5" y="383.8" font-size="5" fill="#8a8a8a" text-anchor="middle">70</text>
<text x="115.0" y="383.8" font-size="5" fill="#8a8a8a" text-anchor="middle">80</text>
<text x="138.5" y="383.8" font-size="5" fill="#8a8a8a" text-anchor="middle">90</text>
<text x="29.2" y="261.2" font-size="7.9" fill="#f8766d" style="white-space:pre" textLength="105.3" lengthAdjust="spacingAndGlyphs">davunetide r=-0.2; Pvalue=0.1</text>
<text x="32.7" y="267.9" font-size="7.9" fill="#00bfc4" style="white-space:pre" textLength="103.4" lengthAdjust="spacingAndGlyphs">placebo r=-0.26; Pvalue=0.05</text>
<text x="107.7" y="285.4" font-size="13.0" fill="#111" textLength="27.4" lengthAdjust="spacingAndGlyphs">Male</text>
<text x="33.4" y="374" font-size="12.2" fill="#111" textLength="18.9" lengthAdjust="spacingAndGlyphs">Age</text>
<rect x="177.6" y="173.6" width="137.6" height="208.2" rx="1.5" fill="#fff" stroke="#686868" stroke-width="1.2"/>
<text x="230.3" y="188.4" font-size="11" fill="#222" textLength="37.9" lengthAdjust="spacingAndGlyphs">Female</text>
<rect x="242.2" y="280.9" width="19.5" height="45.8" fill="#f3f3f3"/>
<polyline points="242.2,326.7 242.2,280.9 261.8,280.9 261.8,326.7" fill="none" stroke="#1a1aee" stroke-width="2.1"/>
<rect x="275.3" y="291.1" width="20.6" height="35.6" fill="#f3f3f3"/>
<polyline points="275.3,326.7 275.3,291.1 295.9,291.1 295.9,326.7" fill="none" stroke="#ee1a1a" stroke-width="2.1"/>
<line x1="252.0" y1="258.6" x2="252.0" y2="301.2" stroke="#555" stroke-width="0.9"/>
<line x1="246.2" y1="258.6" x2="257.8" y2="258.6" stroke="#555" stroke-width="1.0"/>
<line x1="246.2" y1="301.2" x2="257.8" y2="301.2" stroke="#555" stroke-width="1.0"/>
<rect x="251.3" y="239.7" width="1.45" height="1.45" fill="#1a1aee"/>
<rect x="250.2" y="243.3" width="1.45" height="1.45" fill="#1a1aee"/>
<rect x="252.4" y="243.3" width="1.45" height="1.45" fill="#1a1aee"/>
<rect x="250.2" y="249.2" width="1.45" height="1.45" fill="#1a1aee"/>
<rect x="252.4" y="249.2" width="1.45" height="1.45" fill="#1a1aee"/>
<rect x="251.3" y="251.3" width="1.45" height="1.45" fill="#1a1aee"/>
<rect x="248.0" y="254.8" width="1.45" height="1.45" fill="#1a1aee"/>
<rect x="250.2" y="254.8" width="1.45" height="1.45" fill="#1a1aee"/>
<rect x="252.4" y="254.8" width="1.45" height="1.45" fill="#1a1aee"/>
<rect x="254.6" y="254.8" width="1.45" height="1.45" fill="#1a1aee"/>
<rect x="245.8" y="257.9" width="1.45" height="1.45" fill="#1a1aee"/>
<rect x="248.0" y="257.9" width="1.45" height="1.45" fill="#1a1aee"/>
<rect x="250.2" y="257.9" width="1.45" height="1.45" fill="#1a1aee"/>
<rect x="252.4" y="257.9" width="1.45" height="1.45" fill="#1a1aee"/>
<rect x="254.6" y="257.9" width="1.45" height="1.45" fill="#1a1aee"/>
<rect x="256.8" y="257.9" width="1.45" height="1.45" fill="#1a1aee"/>
<rect x="250.2" y="263.6" width="1.45" height="1.45" fill="#1a1aee"/>
<rect x="252.4" y="263.6" width="1.45" height="1.45" fill="#1a1aee"/>
<rect x="246.9" y="266.7" width="1.45" height="1.45" fill="#1a1aee"/>
<rect x="249.1" y="266.7" width="1.45" height="1.45" fill="#1a1aee"/>
<rect x="251.3" y="266.7" width="1.45" height="1.45" fill="#1a1aee"/>
<rect x="253.5" y="266.7" width="1.45" height="1.45" fill="#1a1aee"/>
<rect x="255.7" y="266.7" width="1.45" height="1.45" fill="#1a1aee"/>
<rect x="250.2" y="269.6" width="1.45" height="1.45" fill="#1a1aee"/>
<rect x="252.4" y="269.6" width="1.45" height="1.45" fill="#1a1aee"/>
<rect x="250.2" y="273.0" width="1.45" height="1.45" fill="#1a1aee"/>
<rect x="252.4" y="273.0" width="1.45" height="1.45" fill="#1a1aee"/>
<rect x="250.2" y="275.7" width="1.45" height="1.45" fill="#1a1aee"/>
<rect x="252.4" y="275.7" width="1.45" height="1.45" fill="#1a1aee"/>
<rect x="249.1" y="277.7" width="1.45" height="1.45" fill="#1a1aee"/>
<rect x="251.3" y="277.7" width="1.45" height="1.45" fill="#1a1aee"/>
<rect x="253.5" y="277.7" width="1.45" height="1.45" fill="#1a1aee"/>
<rect x="249.1" y="280.3" width="1.45" height="1.45" fill="#1a1aee"/>
<rect x="251.3" y="280.3" width="1.45" height="1.45" fill="#1a1aee"/>
<rect x="253.5" y="280.3" width="1.45" height="1.45" fill="#1a1aee"/>
<rect x="245.8" y="284.4" width="1.45" height="1.45" fill="#1a1aee"/>
<rect x="248.0" y="284.4" width="1.45" height="1.45" fill="#1a1aee"/>
<rect x="250.2" y="284.4" width="1.45" height="1.45" fill="#1a1aee"/>
<rect x="252.4" y="284.4" width="1.45" height="1.45" fill="#1a1aee"/>
<rect x="254.6" y="284.4" width="1.45" height="1.45" fill="#1a1aee"/>
<rect x="256.8" y="284.4" width="1.45" height="1.45" fill="#1a1aee"/>
<rect x="250.2" y="287.4" width="1.45" height="1.45" fill="#1a1aee"/>
<rect x="252.4" y="287.4" width="1.45" height="1.45" fill="#1a1aee"/>
<rect x="251.3" y="290.1" width="1.45" height="1.45" fill="#1a1aee"/>
<rect x="251.3" y="293.2" width="1.45" height="1.45" fill="#1a1aee"/>
<rect x="243.6" y="296.2" width="1.45" height="1.45" fill="#1a1aee"/>
<rect x="245.8" y="296.2" width="1.45" height="1.45" fill="#1a1aee"/>
<rect x="248.0" y="296.2" width="1.45" height="1.45" fill="#1a1aee"/>
<rect x="250.2" y="296.2" width="1.45" height="1.45" fill="#1a1aee"/>
<rect x="252.4" y="296.2" width="1.45" height="1.45" fill="#1a1aee"/>
<rect x="254.6" y="296.2" width="1.45" height="1.45" fill="#1a1aee"/>
<rect x="256.8" y="296.2" width="1.45" height="1.45" fill="#1a1aee"/>
<rect x="259.0" y="296.2" width="1.45" height="1.45" fill="#1a1aee"/>
<rect x="248.0" y="298.9" width="1.45" height="1.45" fill="#1a1aee"/>
<rect x="250.2" y="298.9" width="1.45" height="1.45" fill="#1a1aee"/>
<rect x="252.4" y="298.9" width="1.45" height="1.45" fill="#1a1aee"/>
<rect x="254.6" y="298.9" width="1.45" height="1.45" fill="#1a1aee"/>
<rect x="251.3" y="304.9" width="1.45" height="1.45" fill="#1a1aee"/>
<rect x="249.1" y="308.0" width="1.45" height="1.45" fill="#1a1aee"/>
<rect x="251.3" y="308.0" width="1.45" height="1.45" fill="#1a1aee"/>
<rect x="253.5" y="308.0" width="1.45" height="1.45" fill="#1a1aee"/>
<rect x="251.3" y="319.8" width="1.45" height="1.45" fill="#1a1aee"/>
<rect x="250.2" y="325.1" width="1.45" height="1.45" fill="#1a1aee"/>
<rect x="252.4" y="325.1" width="1.45" height="1.45" fill="#1a1aee"/>
<line x1="285.65" y1="267.4" x2="285.65" y2="311.4" stroke="#555" stroke-width="0.9"/>
<line x1="279.8" y1="267.4" x2="291.4" y2="267.4" stroke="#555" stroke-width="1.0"/>
<line x1="279.8" y1="311.4" x2="291.4" y2="311.4" stroke="#555" stroke-width="1.0"/>
<circle cx="285.6" cy="240.7" r="0.91" fill="#ee1a1a"/>
<circle cx="285.6" cy="249.9" r="0.91" fill="#ee1a1a"/>
<circle cx="283.4" cy="252.6" r="0.91" fill="#ee1a1a"/>
<circle cx="285.6" cy="252.6" r="0.91" fill="#ee1a1a"/>
<circle cx="287.8" cy="252.6" r="0.91" fill="#ee1a1a"/>
<circle cx="285.6" cy="255.5" r="0.91" fill="#ee1a1a"/>
<circle cx="285.6" cy="258.6" r="0.91" fill="#ee1a1a"/>
<circle cx="285.6" cy="264.3" r="0.91" fill="#ee1a1a"/>
<circle cx="283.4" cy="267.0" r="0.91" fill="#ee1a1a"/>
<circle cx="285.6" cy="267.0" r="0.91" fill="#ee1a1a"/>
<circle cx="287.8" cy="267.0" r="0.91" fill="#ee1a1a"/>
<circle cx="284.5" cy="270.3" r="0.91" fill="#ee1a1a"/>
<circle cx="286.8" cy="270.3" r="0.91" fill="#ee1a1a"/>
<circle cx="283.4" cy="273.3" r="0.91" fill="#ee1a1a"/>
<circle cx="285.6" cy="273.3" r="0.91" fill="#ee1a1a"/>
<circle cx="287.8" cy="273.3" r="0.91" fill="#ee1a1a"/>
<circle cx="284.5" cy="276.0" r="0.91" fill="#ee1a1a"/>
<circle cx="286.8" cy="276.0" r="0.91" fill="#ee1a1a"/>
<circle cx="281.2" cy="279.1" r="0.91" fill="#ee1a1a"/>
<circle cx="283.4" cy="279.1" r="0.91" fill="#ee1a1a"/>
<circle cx="285.6" cy="279.1" r="0.91" fill="#ee1a1a"/>
<circle cx="287.8" cy="279.1" r="0.91" fill="#ee1a1a"/>
<circle cx="290.0" cy="279.1" r="0.91" fill="#ee1a1a"/>
<circle cx="285.6" cy="282.3" r="0.91" fill="#ee1a1a"/>
<circle cx="283.4" cy="285.2" r="0.91" fill="#ee1a1a"/>
<circle cx="285.6" cy="285.2" r="0.91" fill="#ee1a1a"/>
<circle cx="287.8" cy="285.2" r="0.91" fill="#ee1a1a"/>
<circle cx="281.2" cy="287.8" r="0.91" fill="#ee1a1a"/>
<circle cx="283.4" cy="287.8" r="0.91" fill="#ee1a1a"/>
<circle cx="285.6" cy="287.8" r="0.91" fill="#ee1a1a"/>
<circle cx="287.8" cy="287.8" r="0.91" fill="#ee1a1a"/>
<circle cx="290.0" cy="287.8" r="0.91" fill="#ee1a1a"/>
<circle cx="279.0" cy="293.9" r="0.91" fill="#ee1a1a"/>
<circle cx="281.2" cy="293.9" r="0.91" fill="#ee1a1a"/>
<circle cx="283.4" cy="293.9" r="0.91" fill="#ee1a1a"/>
<circle cx="285.6" cy="293.9" r="0.91" fill="#ee1a1a"/>
<circle cx="287.8" cy="293.9" r="0.91" fill="#ee1a1a"/>
<circle cx="290.0" cy="293.9" r="0.91" fill="#ee1a1a"/>
<circle cx="292.2" cy="293.9" r="0.91" fill="#ee1a1a"/>
<circle cx="285.6" cy="296.9" r="0.91" fill="#ee1a1a"/>
<circle cx="281.2" cy="299.6" r="0.91" fill="#ee1a1a"/>
<circle cx="283.4" cy="299.6" r="0.91" fill="#ee1a1a"/>
<circle cx="285.6" cy="299.6" r="0.91" fill="#ee1a1a"/>
<circle cx="287.8" cy="299.6" r="0.91" fill="#ee1a1a"/>
<circle cx="290.0" cy="299.6" r="0.91" fill="#ee1a1a"/>
<circle cx="283.4" cy="302.7" r="0.91" fill="#ee1a1a"/>
<circle cx="285.6" cy="302.7" r="0.91" fill="#ee1a1a"/>
<circle cx="287.8" cy="302.7" r="0.91" fill="#ee1a1a"/>
<circle cx="281.2" cy="305.6" r="0.91" fill="#ee1a1a"/>
<circle cx="283.4" cy="305.6" r="0.91" fill="#ee1a1a"/>
<circle cx="285.6" cy="305.6" r="0.91" fill="#ee1a1a"/>
<circle cx="287.8" cy="305.6" r="0.91" fill="#ee1a1a"/>
<circle cx="290.0" cy="305.6" r="0.91" fill="#ee1a1a"/>
<circle cx="285.6" cy="314.4" r="0.91" fill="#ee1a1a"/>
<circle cx="284.5" cy="320.5" r="0.91" fill="#ee1a1a"/>
<circle cx="286.8" cy="320.5" r="0.91" fill="#ee1a1a"/>
<circle cx="284.5" cy="321.8" r="0.91" fill="#ee1a1a"/>
<circle cx="286.8" cy="321.8" r="0.91" fill="#ee1a1a"/>
<circle cx="283.4" cy="323.8" r="0.91" fill="#ee1a1a"/>
<circle cx="285.6" cy="323.8" r="0.91" fill="#ee1a1a"/>
<circle cx="287.8" cy="323.8" r="0.91" fill="#ee1a1a"/>
<circle cx="284.5" cy="325.8" r="0.91" fill="#ee1a1a"/>
<circle cx="286.8" cy="325.8" r="0.91" fill="#ee1a1a"/>
<line x1="228.8" y1="208.5" x2="228.8" y2="326.7" stroke="#111" stroke-width="1.0"/>
<line x1="225.8" y1="326.7" x2="308.6" y2="326.7" stroke="#111" stroke-width="1.0"/>
<line x1="224.8" y1="326.7" x2="228.8" y2="326.7" stroke="#111" stroke-width="1.1"/>
<text x="222.8" y="329.8" font-size="8.6" font-weight="bold" fill="#222" stroke="#222" stroke-width="0.2" text-anchor="end">0</text>
<line x1="224.8" y1="297.1" x2="228.8" y2="297.1" stroke="#111" stroke-width="1.1"/>
<text x="222.8" y="300.2" font-size="8.6" font-weight="bold" fill="#222" stroke="#222" stroke-width="0.2" text-anchor="end">10</text>
<line x1="224.8" y1="267.6" x2="228.8" y2="267.6" stroke="#111" stroke-width="1.1"/>
<text x="222.8" y="270.7" font-size="8.6" font-weight="bold" fill="#222" stroke="#222" stroke-width="0.2" text-anchor="end">20</text>
<line x1="224.8" y1="238.0" x2="228.8" y2="238.0" stroke="#111" stroke-width="1.1"/>
<text x="222.8" y="241.1" font-size="8.6" font-weight="bold" fill="#222" stroke="#222" stroke-width="0.2" text-anchor="end">30</text>
<line x1="224.8" y1="208.5" x2="228.8" y2="208.5" stroke="#111" stroke-width="1.1"/>
<text x="222.8" y="211.6" font-size="8.6" font-weight="bold" fill="#222" stroke="#222" stroke-width="0.2" text-anchor="end">40</text>
<line x1="252.0" y1="326.7" x2="252.0" y2="330.7" stroke="#111" stroke-width="1.1"/>
<line x1="285.65" y1="326.7" x2="285.65" y2="330.7" stroke="#111" stroke-width="1.1"/>
<text transform="translate(195.8,261.9) rotate(-90)" x="0" y="0" font-size="9.3" font-weight="bold" fill="#111" stroke="#111" stroke-width="0.3" text-anchor="middle" textLength="36.4" lengthAdjust="spacingAndGlyphs">week 52</text>
<text transform="translate(252.1,341.6) rotate(-45)" x="0" y="0" font-size="8.7" font-weight="bold" fill="#111" stroke="#111" stroke-width="0.15" text-anchor="end">placebo</text>
<text transform="translate(287.4,340.3) rotate(-45)" x="0" y="0" font-size="8.7" font-weight="bold" fill="#111" stroke="#111" stroke-width="0.15" text-anchor="end">davunetide</text>
<polyline points="251.6,235.2 251.6,229.7 286.6,229.7 286.6,235.2" fill="none" stroke="#444" stroke-width="0.9"/>
<text x="268.3" y="226.2" font-size="8" font-weight="bold" fill="#111" text-anchor="middle">*</text>
<rect x="332.3" y="222.8" width="94.9" height="155.6" rx="2" fill="#fff" stroke="#686868" stroke-width="1.2"/>
<text x="373.9" y="236.3" font-size="9.5" fill="#222" textLength="19.7" lengthAdjust="spacingAndGlyphs">Male</text>
<rect x="372.0" y="311.1" width="14.6" height="26.4" fill="#f3f3f3"/>
<polyline points="372.0,337.5 372.0,311.1 386.6,311.1 386.6,337.5" fill="none" stroke="#1a1aee" stroke-width="1.4"/>
<rect x="396.9" y="310.7" width="14.9" height="26.8" fill="#f3f3f3"/>
<polyline points="396.9,337.5 396.9,310.7 411.8,310.7 411.8,337.5" fill="none" stroke="#ee1a1a" stroke-width="1.4"/>
<line x1="379.3" y1="293.2" x2="379.3" y2="326.9" stroke="#555" stroke-width="0.9"/>
<line x1="374.8" y1="293.2" x2="383.8" y2="293.2" stroke="#888" stroke-width="0.9"/>
<line x1="374.8" y1="326.9" x2="383.8" y2="326.9" stroke="#888" stroke-width="0.9"/>
<rect x="378.7" y="279.2" width="1.25" height="1.25" fill="#1a1aee"/>
<rect x="377.2" y="281.6" width="1.25" height="1.25" fill="#1a1aee"/>
<rect x="378.7" y="281.6" width="1.25" height="1.25" fill="#1a1aee"/>
<rect x="380.1" y="281.6" width="1.25" height="1.25" fill="#1a1aee"/>
<rect x="376.5" y="288.1" width="1.25" height="1.25" fill="#1a1aee"/>
<rect x="377.9" y="288.1" width="1.25" height="1.25" fill="#1a1aee"/>
<rect x="379.4" y="288.1" width="1.25" height="1.25" fill="#1a1aee"/>
<rect x="380.9" y="288.1" width="1.25" height="1.25" fill="#1a1aee"/>
<rect x="377.9" y="290.4" width="1.25" height="1.25" fill="#1a1aee"/>
<rect x="379.4" y="290.4" width="1.25" height="1.25" fill="#1a1aee"/>
<rect x="377.2" y="294.6" width="1.25" height="1.25" fill="#1a1aee"/>
<rect x="378.7" y="294.6" width="1.25" height="1.25" fill="#1a1aee"/>
<rect x="380.1" y="294.6" width="1.25" height="1.25" fill="#1a1aee"/>
<rect x="377.9" y="297.1" width="1.25" height="1.25" fill="#1a1aee"/>
<rect x="379.4" y="297.1" width="1.25" height="1.25" fill="#1a1aee"/>
<rect x="378.7" y="299.4" width="1.25" height="1.25" fill="#1a1aee"/>
<rect x="377.9" y="301.4" width="1.25" height="1.25" fill="#1a1aee"/>
<rect x="379.4" y="301.4" width="1.25" height="1.25" fill="#1a1aee"/>
<rect x="378.7" y="303.4" width="1.25" height="1.25" fill="#1a1aee"/>
<rect x="377.9" y="305.4" width="1.25" height="1.25" fill="#1a1aee"/>
<rect x="379.4" y="305.4" width="1.25" height="1.25" fill="#1a1aee"/>
<rect x="378.7" y="307.9" width="1.25" height="1.25" fill="#1a1aee"/>
<rect x="377.9" y="312.3" width="1.25" height="1.25" fill="#1a1aee"/>
<rect x="379.4" y="312.3" width="1.25" height="1.25" fill="#1a1aee"/>
<rect x="377.2" y="314.8" width="1.25" height="1.25" fill="#1a1aee"/>
<rect x="378.7" y="314.8" width="1.25" height="1.25" fill="#1a1aee"/>
<rect x="380.1" y="314.8" width="1.25" height="1.25" fill="#1a1aee"/>
<rect x="376.5" y="317.3" width="1.25" height="1.25" fill="#1a1aee"/>
<rect x="377.9" y="317.3" width="1.25" height="1.25" fill="#1a1aee"/>
<rect x="379.4" y="317.3" width="1.25" height="1.25" fill="#1a1aee"/>
<rect x="380.9" y="317.3" width="1.25" height="1.25" fill="#1a1aee"/>
<rect x="376.5" y="319.5" width="1.25" height="1.25" fill="#1a1aee"/>
<rect x="377.9" y="319.5" width="1.25" height="1.25" fill="#1a1aee"/>
<rect x="379.4" y="319.5" width="1.25" height="1.25" fill="#1a1aee"/>
<rect x="380.9" y="319.5" width="1.25" height="1.25" fill="#1a1aee"/>
<rect x="377.9" y="321.5" width="1.25" height="1.25" fill="#1a1aee"/>
<rect x="379.4" y="321.5" width="1.25" height="1.25" fill="#1a1aee"/>
<rect x="378.7" y="328.3" width="1.25" height="1.25" fill="#1a1aee"/>
<rect x="378.7" y="330.4" width="1.25" height="1.25" fill="#1a1aee"/>
<rect x="378.7" y="332.5" width="1.25" height="1.25" fill="#1a1aee"/>
<rect x="378.7" y="335.0" width="1.25" height="1.25" fill="#1a1aee"/>
<rect x="377.9" y="336.4" width="1.25" height="1.25" fill="#1a1aee"/>
<rect x="379.4" y="336.4" width="1.25" height="1.25" fill="#1a1aee"/>
<line x1="404.35" y1="292.9" x2="404.35" y2="325.9" stroke="#555" stroke-width="0.9"/>
<line x1="399.9" y1="292.9" x2="408.9" y2="292.9" stroke="#888" stroke-width="0.9"/>
<line x1="399.9" y1="325.9" x2="408.9" y2="325.9" stroke="#888" stroke-width="0.9"/>
<circle cx="404.4" cy="275.4" r="0.80" fill="#ee1a1a"/>
<circle cx="404.4" cy="277.0" r="0.80" fill="#ee1a1a"/>
<circle cx="404.4" cy="278.6" r="0.80" fill="#ee1a1a"/>
<circle cx="404.4" cy="280.8" r="0.80" fill="#ee1a1a"/>
<circle cx="404.4" cy="282.8" r="0.80" fill="#ee1a1a"/>
<circle cx="402.2" cy="284.4" r="0.80" fill="#ee1a1a"/>
<circle cx="403.6" cy="284.4" r="0.80" fill="#ee1a1a"/>
<circle cx="405.1" cy="284.4" r="0.80" fill="#ee1a1a"/>
<circle cx="406.5" cy="284.4" r="0.80" fill="#ee1a1a"/>
<circle cx="404.4" cy="286.5" r="0.80" fill="#ee1a1a"/>
<circle cx="403.6" cy="290.9" r="0.80" fill="#ee1a1a"/>
<circle cx="405.1" cy="290.9" r="0.80" fill="#ee1a1a"/>
<circle cx="404.4" cy="295.6" r="0.80" fill="#ee1a1a"/>
<circle cx="404.4" cy="297.4" r="0.80" fill="#ee1a1a"/>
<circle cx="403.6" cy="299.4" r="0.80" fill="#ee1a1a"/>
<circle cx="405.1" cy="299.4" r="0.80" fill="#ee1a1a"/>
<circle cx="404.4" cy="301.8" r="0.80" fill="#ee1a1a"/>
<circle cx="404.4" cy="304.1" r="0.80" fill="#ee1a1a"/>
<circle cx="404.4" cy="306.4" r="0.80" fill="#ee1a1a"/>
<circle cx="404.4" cy="308.8" r="0.80" fill="#ee1a1a"/>
<circle cx="402.2" cy="313.0" r="0.80" fill="#ee1a1a"/>
<circle cx="403.6" cy="313.0" r="0.80" fill="#ee1a1a"/>
<circle cx="405.1" cy="313.0" r="0.80" fill="#ee1a1a"/>
<circle cx="406.5" cy="313.0" r="0.80" fill="#ee1a1a"/>
<circle cx="401.5" cy="315.5" r="0.80" fill="#ee1a1a"/>
<circle cx="402.9" cy="315.5" r="0.80" fill="#ee1a1a"/>
<circle cx="404.4" cy="315.5" r="0.80" fill="#ee1a1a"/>
<circle cx="405.8" cy="315.5" r="0.80" fill="#ee1a1a"/>
<circle cx="407.2" cy="315.5" r="0.80" fill="#ee1a1a"/>
<circle cx="402.9" cy="317.3" r="0.80" fill="#ee1a1a"/>
<circle cx="404.4" cy="317.3" r="0.80" fill="#ee1a1a"/>
<circle cx="405.8" cy="317.3" r="0.80" fill="#ee1a1a"/>
<circle cx="402.2" cy="319.7" r="0.80" fill="#ee1a1a"/>
<circle cx="403.6" cy="319.7" r="0.80" fill="#ee1a1a"/>
<circle cx="405.1" cy="319.7" r="0.80" fill="#ee1a1a"/>
<circle cx="406.5" cy="319.7" r="0.80" fill="#ee1a1a"/>
<circle cx="402.2" cy="321.7" r="0.80" fill="#ee1a1a"/>
<circle cx="403.6" cy="321.7" r="0.80" fill="#ee1a1a"/>
<circle cx="405.1" cy="321.7" r="0.80" fill="#ee1a1a"/>
<circle cx="406.5" cy="321.7" r="0.80" fill="#ee1a1a"/>
<circle cx="403.6" cy="328.5" r="0.80" fill="#ee1a1a"/>
<circle cx="405.1" cy="328.5" r="0.80" fill="#ee1a1a"/>
<circle cx="401.5" cy="332.6" r="0.80" fill="#ee1a1a"/>
<circle cx="402.9" cy="332.6" r="0.80" fill="#ee1a1a"/>
<circle cx="404.4" cy="332.6" r="0.80" fill="#ee1a1a"/>
<circle cx="405.8" cy="332.6" r="0.80" fill="#ee1a1a"/>
<circle cx="407.2" cy="332.6" r="0.80" fill="#ee1a1a"/>
<circle cx="403.6" cy="334.7" r="0.80" fill="#ee1a1a"/>
<circle cx="405.1" cy="334.7" r="0.80" fill="#ee1a1a"/>
<circle cx="404.4" cy="336.3" r="0.80" fill="#ee1a1a"/>
<line x1="362.5" y1="248.7" x2="362.5" y2="337.5" stroke="#111" stroke-width="1.0"/>
<line x1="359.5" y1="337.5" x2="420.7" y2="337.5" stroke="#111" stroke-width="1.0"/>
<line x1="358.5" y1="337.5" x2="362.5" y2="337.5" stroke="#111" stroke-width="1.1"/>
<text x="357.6" y="339.9" font-size="6.8" font-weight="bold" fill="#222" stroke="#222" stroke-width="0.2" text-anchor="end">0</text>
<line x1="358.5" y1="315.3" x2="362.5" y2="315.3" stroke="#111" stroke-width="1.1"/>
<text x="357.6" y="317.7" font-size="6.8" font-weight="bold" fill="#222" stroke="#222" stroke-width="0.2" text-anchor="end">10</text>
<line x1="358.5" y1="293.1" x2="362.5" y2="293.1" stroke="#111" stroke-width="1.1"/>
<text x="357.6" y="295.5" font-size="6.8" font-weight="bold" fill="#222" stroke="#222" stroke-width="0.2" text-anchor="end">20</text>
<line x1="358.5" y1="270.9" x2="362.5" y2="270.9" stroke="#111" stroke-width="1.1"/>
<text x="357.6" y="273.3" font-size="6.8" font-weight="bold" fill="#222" stroke="#222" stroke-width="0.2" text-anchor="end">30</text>
<line x1="358.5" y1="248.7" x2="362.5" y2="248.7" stroke="#111" stroke-width="1.1"/>
<text x="357.6" y="251.1" font-size="6.8" font-weight="bold" fill="#222" stroke="#222" stroke-width="0.2" text-anchor="end">40</text>
<line x1="379.3" y1="337.5" x2="379.3" y2="341.5" stroke="#111" stroke-width="1.1"/>
<line x1="404.35" y1="337.5" x2="404.35" y2="341.5" stroke="#111" stroke-width="1.1"/>
<text transform="translate(346.3,293.0) rotate(-90)" x="0" y="0" font-size="7.3" font-weight="bold" fill="#111" stroke="#111" stroke-width="0.1" text-anchor="middle" textLength="28.4" lengthAdjust="spacingAndGlyphs">week 52</text>
<text transform="translate(380.7,347.8) rotate(-45)" x="0" y="0" font-size="6.3" font-weight="bold" fill="#111" stroke="#111" stroke-width="0.15" text-anchor="end">placebo</text>
<text transform="translate(406.3,347.8) rotate(-45)" x="0" y="0" font-size="6.3" font-weight="bold" fill="#111" stroke="#111" stroke-width="0.15" text-anchor="end">davunetide</text>
</svg></body></html>
